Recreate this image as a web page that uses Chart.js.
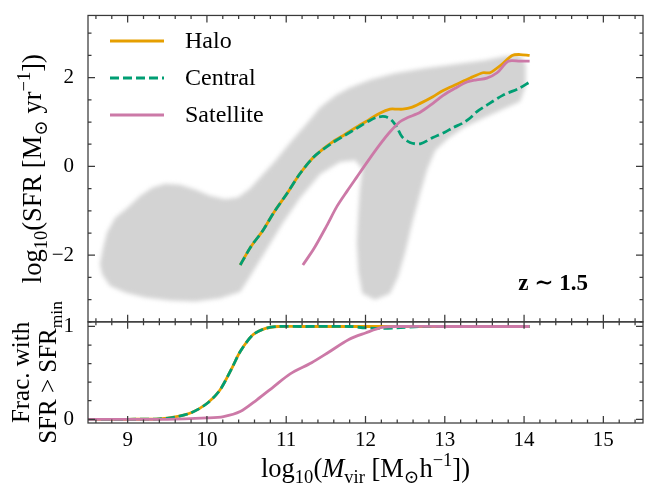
<!DOCTYPE html>
<html>
<head>
<meta charset="utf-8">
<script src="https://cdn.jsdelivr.net/npm/chart.js@4.4.1/dist/chart.umd.min.js"></script>
<style>
  html, body { margin: 0; padding: 0; background: #fff; }
</style>
</head>
<body>
<canvas id="sfr_mvir" width="654" height="488"></canvas>
<script>
// ---- values (z ~ 1.5) ----
const xTicks = [9, 10, 11, 12, 13, 14, 15];
const sfrTicks = [-2, 0, 2];
const fracTicks = [0, 1];

// median log10 SFR vs log10 Mvir
const haloX   = [10.42, 10.55, 10.71, 10.85, 11.01, 11.17, 11.34, 11.47, 11.59, 11.74, 11.89, 12.05, 12.18, 12.31, 12.40, 12.47, 12.58, 12.69, 12.85, 12.98, 13.15, 13.32, 13.48, 13.57, 13.72, 13.85, 13.95, 14.07];
const haloSFR = [-2.22, -1.82, -1.43, -1.02, -0.61, -0.17, 0.20, 0.40, 0.56, 0.72, 0.89, 1.06, 1.20, 1.29, 1.29, 1.29, 1.33, 1.42, 1.57, 1.71, 1.85, 1.99, 2.11, 2.11, 2.30, 2.50, 2.52, 2.50];

const centralX   = [10.42, 10.55, 10.71, 10.85, 11.01, 11.17, 11.34, 11.47, 11.59, 11.74, 11.89, 12.05, 12.15, 12.25, 12.33, 12.40, 12.46, 12.56, 12.69, 12.85, 13.00, 13.10, 13.22, 13.32, 13.41, 13.53, 13.73, 13.95, 14.07];
const centralSFR = [-2.22, -1.82, -1.43, -1.02, -0.61, -0.17, 0.20, 0.39, 0.54, 0.70, 0.86, 1.03, 1.11, 1.12, 1.04, 0.87, 0.67, 0.54, 0.51, 0.65, 0.77, 0.87, 0.97, 1.09, 1.24, 1.38, 1.60, 1.77, 1.90];

const satX   = [11.21, 11.35, 11.51, 11.64, 11.77, 11.89, 12.03, 12.18, 12.31, 12.43, 12.52, 12.69, 12.85, 12.98, 13.13, 13.28, 13.40, 13.53, 13.66, 13.80, 13.95, 14.07];
const satSFR = [-2.22, -1.85, -1.34, -0.90, -0.55, -0.24, 0.12, 0.49, 0.78, 1.00, 1.09, 1.22, 1.42, 1.60, 1.76, 1.90, 1.95, 1.99, 2.11, 2.37, 2.37, 2.37];

// fraction with SFR > SFR_min
const haloFracX = [8.5, 9.0, 9.4, 9.6, 9.8, 10.0, 10.16, 10.32, 10.42, 10.58, 10.74, 10.9, 11.2, 12.0, 13.0, 14.07];
const haloFrac  = [0, 0, 0.005, 0.025, 0.07, 0.17, 0.31, 0.56, 0.73, 0.91, 0.98, 1.0, 1.0, 1.0, 1.0, 1.0];
const centralFracX = [8.5, 9.0, 9.4, 9.6, 9.8, 10.0, 10.16, 10.32, 10.42, 10.58, 10.74, 10.9, 11.2, 11.8, 12.0, 12.2, 12.4, 12.7, 13.0, 14.07];
const centralFrac  = [0, 0, 0.005, 0.025, 0.07, 0.17, 0.31, 0.56, 0.73, 0.91, 0.98, 1.0, 1.0, 1.0, 0.985, 0.98, 0.985, 1.0, 1.0, 1.0];
const satFracX = [8.5, 9.5, 10.0, 10.21, 10.42, 10.63, 10.84, 11.05, 11.32, 11.53, 11.79, 12.0, 12.21, 12.42, 13.0, 14.07];
const satFrac  = [0, 0, 0.015, 0.03, 0.084, 0.21, 0.35, 0.49, 0.61, 0.72, 0.86, 0.93, 0.99, 1.0, 1.0, 1.0];

// outline of the grey cloud of individual haloes (traced clockwise)
const cloudX = [8.65, 8.69, 8.74, 8.84, 8.99, 9.16, 9.31, 9.47, 9.66, 9.85, 10.04, 10.23, 10.39, 10.54, 10.69, 10.86, 11.05, 11.24, 11.43, 11.62, 11.80, 12.06, 12.37, 12.75, 13.13, 13.51, 13.76, 13.95, 14.02, 14.02, 13.95, 13.76, 13.51, 13.25, 13.04, 12.88, 12.78, 12.69, 12.59, 12.50, 12.41, 12.31, 12.12, 11.96, 11.91, 11.89, 11.91, 11.93, 11.96, 11.87, 11.68, 11.43, 11.17, 10.96, 10.73, 10.54, 10.42, 10.17, 9.85, 9.53, 9.22, 8.97, 8.78, 8.68];
const cloudY = [-2.20, -1.83, -1.49, -1.16, -0.94, -0.66, -0.48, -0.39, -0.41, -0.52, -0.66, -0.74, -0.70, -0.50, -0.21, 0.12, 0.54, 0.93, 1.33, 1.60, 1.77, 1.95, 2.10, 2.21, 2.30, 2.39, 2.48, 2.50, 2.30, 1.82, 1.46, 1.31, 1.11, 0.89, 0.63, 0.36, -0.06, -0.61, -1.27, -1.94, -2.49, -2.86, -3.00, -2.86, -2.38, -1.72, -1.05, -0.50, -0.06, 0.14, 0.10, -0.17, -0.72, -1.27, -1.94, -2.49, -2.82, -2.97, -3.04, -3.02, -2.95, -2.84, -2.69, -2.44];

const HALO = '#E69F00', CENTRAL = '#009E73', SAT = '#CC79A7';
const SERIF = '"Liberation Serif", "DejaVu Serif", serif';

const pts = (xs, ys) => xs.map((x, i) => ({x: x, y: ys[i]}));
const curve = (label, xs, ys, color, axis, order, dash) => ({
  label: label, data: pts(xs, ys), yAxisID: axis, order: order,
  showLine: true, borderColor: color, backgroundColor: color,
  borderWidth: 2.8, borderDash: dash || [], pointRadius: 0,
  tension: 0.3, fill: false
});

// grey cloud: fill the outline through the points chart.js placed, with a soft edge
const cloudFill = {
  id: 'cloudFill',
  beforeDatasetsDraw(chart) {
    const i = chart.data.datasets.findIndex(d => d.label === 'cloud');
    const els = chart.getDatasetMeta(i).data;
    const {ctx} = chart;
    ctx.save();
    ctx.filter = 'blur(2px)';
    ctx.fillStyle = '#d3d3d3';
    ctx.beginPath();
    els.forEach((p, k) => (k ? ctx.lineTo(p.x, p.y) : ctx.moveTo(p.x, p.y)));
    ctx.closePath();
    ctx.fill();
    ctx.restore();
  }
};

// boxed panels with inward ticks on every side
const frameTicks = {
  id: 'frameTicks',
  afterDatasetsDraw(chart) {
    const {ctx, chartArea: a} = chart;
    const x = chart.scales.x;
    const panels = [[chart.scales.sfr, sfrTicks, 0.5], [chart.scales.frac, fracTicks, 0.2]];
    ctx.save();
    ctx.strokeStyle = '#3a3a3a';
    ctx.lineWidth = 1.25;
    for (const [s, major, step] of panels) {
      const top = s.top, bot = s.bottom;
      ctx.strokeRect(a.left, top, a.right - a.left, bot - top);
      ctx.beginPath();
      for (let k = Math.ceil(x.min / 0.2 - 1e-9); k * 0.2 <= x.max + 1e-9; k++) {
        const v = k * 0.2;
        const len = xTicks.some(t => Math.abs(t - v) < 1e-6) ? 7 : 3.5;
        const px = x.getPixelForValue(v);
        ctx.moveTo(px, bot); ctx.lineTo(px, bot - len);
        ctx.moveTo(px, top); ctx.lineTo(px, top + len);
      }
      for (let k = Math.ceil(s.min / step - 1e-9); k * step <= s.max + 1e-9; k++) {
        const v = k * step;
        const len = major.some(t => Math.abs(t - v) < 1e-6) ? 7 : 3.5;
        const py = s.getPixelForValue(v);
        ctx.moveTo(a.left, py); ctx.lineTo(a.left + len, py);
        ctx.moveTo(a.right, py); ctx.lineTo(a.right - len, py);
      }
      ctx.stroke();
    }
    ctx.restore();
  }
};

// text with sub/superscripts, centred on (x, y) at the baseline
function drawRich(ctx, parts, x, y, size, rotate) {
  const fontFor = k => {
    const s = (k === 'sub' || k === 'sup') ? size * 0.7 : size;
    return (k === 'i' ? 'italic ' : '') + s + 'px ' + SERIF;
  };
  ctx.save();
  ctx.translate(x, y);
  if (rotate) ctx.rotate(-Math.PI / 2);
  let total = 0;
  for (const [t, k] of parts) { ctx.font = fontFor(k); total += ctx.measureText(t).width; }
  let cx = -total / 2;
  ctx.textAlign = 'left';
  ctx.textBaseline = 'alphabetic';
  ctx.fillStyle = '#000';
  for (const [t, k] of parts) {
    ctx.font = fontFor(k);
    const dy = k === 'sub' ? size * 0.22 : k === 'sup' ? -size * 0.4 : 0;
    ctx.fillText(t, cx, dy);
    cx += ctx.measureText(t).width;
  }
  ctx.restore();
}

const labels = {
  id: 'labels',
  afterDraw(chart) {
    const {ctx, chartArea: a} = chart;
    const y = chart.scales.sfr, y2 = chart.scales.frac;
    const yc = (y.top + y.bottom) / 2, y2c = (y2.top + y2.bottom) / 2;

    drawRich(ctx, [['log', ''], ['10', 'sub'], ['(SFR [M', ''], ['\u2299', 'sub'], [' yr', ''], ['\u22121', 'sup'], ['])', '']], 41, yc, 26.5, true);
    drawRich(ctx, [['Frac. with', '']], 29, y2c, 25, true);
    drawRich(ctx, [['SFR > SFR', ''], ['min', 'sub']], 56, y2c, 25, true);
    drawRich(ctx, [['log', ''], ['10', 'sub'], ['(', ''], ['M', 'i'], ['vir', 'sub'], [' [M', ''], ['\u2299', 'sub'], ['h', ''], ['\u22121', 'sup'], ['])', '']], (a.left + a.right) / 2, 477, 26.5, false);

    ctx.save();
    ctx.font = 'bold 23px ' + SERIF;
    ctx.textAlign = 'right';
    ctx.textBaseline = 'alphabetic';
    ctx.fillStyle = '#000';
    ctx.fillText('z \u223C 1.5', 588, 290);

    // legend
    ctx.font = '24px ' + SERIF;
    ctx.textAlign = 'left';
    ctx.textBaseline = 'middle';
    [0, 1, 2].forEach(i => {
      const ds = chart.data.datasets[i];
      const ly = 41 + i * 37;
      ctx.strokeStyle = ds.borderColor;
      ctx.lineWidth = ds.borderWidth;
      ctx.setLineDash(ds.borderDash);
      ctx.beginPath();
      ctx.moveTo(110, ly); ctx.lineTo(164, ly);
      ctx.stroke();
      ctx.setLineDash([]);
      ctx.fillText(ds.label, 185, ly + 1);
    });
    ctx.restore();
  }
};

const tickFont = {family: SERIF, size: 21, lineHeight: 0.9};
const minus = v => String(v).replace('-', '\u2212');

new Chart(document.getElementById('sfr_mvir'), {
  type: 'scatter',
  data: {
    datasets: [
      curve('Halo', haloX, haloSFR, HALO, 'sfr', 3),
      curve('Central', centralX, centralSFR, CENTRAL, 'sfr', 2, [9, 4]),
      curve('Satellite', satX, satSFR, SAT, 'sfr', 1),
      curve('Halo frac', haloFracX, haloFrac, HALO, 'frac', 3),
      curve('Central frac', centralFracX, centralFrac, CENTRAL, 'frac', 2, [9, 4]),
      curve('Satellite frac', satFracX, satFrac, SAT, 'frac', 1),
      {
        label: 'cloud', data: pts(cloudX, cloudY), yAxisID: 'sfr', order: 10,
        showLine: false, pointRadius: 0, borderWidth: 0
      }
    ]
  },
  options: {
    responsive: false,
    animation: false,
    layout: {padding: {top: 8, right: 11, left: 0, bottom: 0}},
    plugins: {legend: {display: false}, tooltip: {enabled: false}},
    scales: {
      x: {
        type: 'linear', min: 8.5, max: 15.5,
        grid: {display: false}, border: {display: false},
        afterBuildTicks: s => { s.ticks = xTicks.map(v => ({value: v})); },
        afterFit: s => { s.height = 65; },
        ticks: {font: tickFont, color: '#000', padding: 0, maxRotation: 0, autoSkip: false}
      },
      frac: {
        type: 'linear', axis: 'y', position: 'left', stack: 'panels', stackWeight: 103,
        min: -0.04, max: 1.05,
        grid: {display: false}, border: {display: false},
        afterBuildTicks: s => { s.ticks = fracTicks.map(v => ({value: v})); },
        afterFit: s => { s.width = 88; },
        ticks: {font: tickFont, color: '#000', padding: 6, callback: minus}
      },
      sfr: {
        type: 'linear', axis: 'y', position: 'left', stack: 'panels', stackWeight: 312,
        min: -3.5, max: 3.4,
        grid: {display: false}, border: {display: false},
        afterBuildTicks: s => { s.ticks = sfrTicks.map(v => ({value: v})); },
        afterFit: s => { s.width = 88; },
        ticks: {font: tickFont, color: '#000', padding: 6, callback: minus}
      }
    }
  },
  plugins: [cloudFill, frameTicks, labels]
});
</script>
</body>
</html>
